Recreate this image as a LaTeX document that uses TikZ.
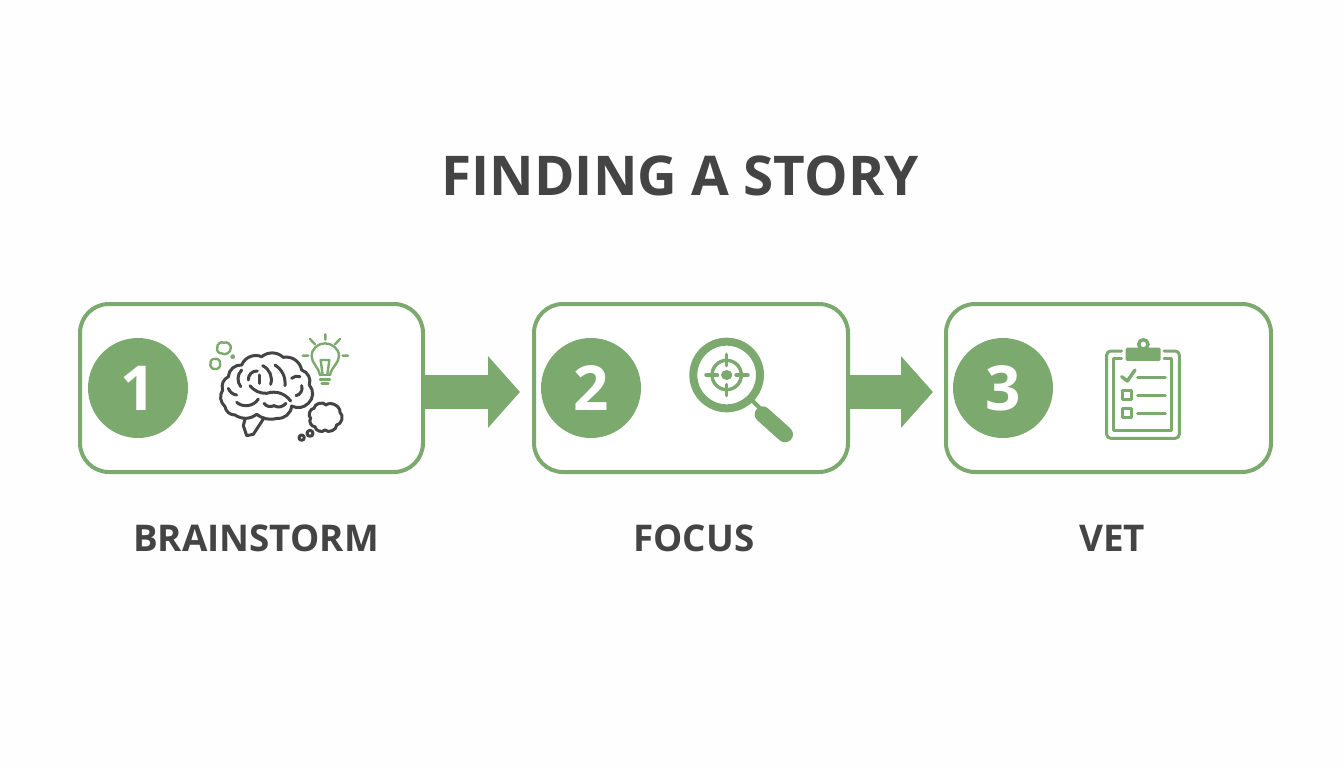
\documentclass[tikz,border=0pt]{standalone}
\usepackage{fontspec}
\setmainfont{Open Sans}
\usetikzlibrary{arrows.meta}
\definecolor{leaf}{HTML}{7CAA6E}
\definecolor{ink}{HTML}{444444}
\definecolor{paper}{HTML}{FEFEFE}
\tikzset{
  stepbox/.style={draw=leaf,line width=4pt,rounded corners=29pt,fill=white,inner sep=0pt,anchor=north west,outer sep=0pt},
  badge/.style={circle,fill=leaf,text=white,minimum size=100pt,inner sep=0pt,font=\fontsize{62}{62}\selectfont\bfseries},
  steplabel/.style={text=ink,font=\fontsize{36.8}{36.8}\selectfont\bfseries,inner sep=0pt},
  flow/.style={draw=leaf,line width=34pt,-{Triangle[length=32pt,width=70pt]}},
  brainline/.style={draw=ink,line width=3pt,line cap=round,line join=round},
  bulbline/.style={draw=leaf,line width=2.4pt,line cap=round,line join=round},
  iconline/.style={draw=leaf,line width=3pt,line cap=round,line join=round},
}
\begin{document}
\begin{tikzpicture}[x=1pt,y=-1pt]
\fill[paper] (0,0) rectangle (1344,768);
\useasboundingbox (0,0) rectangle (1344,768);
\node[text=ink,inner sep=0pt,font=\fontsize{54.8}{54.8}\selectfont\bfseries] (title) at (680,175.5) {FINDING A STORY};
\node[stepbox,minimum width=343pt,minimum height=168pt] (box1) at (80,304) {};
\node[stepbox,minimum width=314pt,minimum height=168pt] (box2) at (534,304) {};
\node[stepbox,minimum width=325pt,minimum height=168pt] (box3) at (946,304) {};
\node[badge] (n1) at (138,388) {1};
\node[badge] (n2) at (591,388) {2};
\node[badge] (n3) at (1003,388) {3};
\node[steplabel] (l1) at (256,538.5) {BRAINSTORM};
\node[steplabel] (l2) at (694,538.5) {FOCUS};
\node[steplabel] (l3) at (1112,538.5) {VET};
\draw[flow,shorten >=14pt] ([yshift=-4pt]box1.east) -- ([yshift=-4pt]box2.west);
\draw[flow,shorten >=13pt] ([yshift=-4pt]box2.east) -- ([yshift=-4pt]box3.west);
% brain icon
\begin{scope}[shift={(200,325)},x=0.3333pt,y=-0.3333pt]
\draw[brainline,fill=white] (75,245) to[bend left=40] (68,195) to[bend left=40] (85,155) to[bend left=45] (125,120) to[bend left=45] (185,95) to[bend left=40] (250,97) to[bend left=45] (305,135) to[bend left=45] (328,180) to[bend left=45] (325,235) to[bend left=35] (275,243) to[bend left=45] (232,280) to[bend left=25] (170,268) to[bend left=35] (105,270) to[bend left=40] (75,245);
\draw[brainline] (190,282) -- (160,328) -- (140,332) -- (130,302) -- (135,283);
\draw[brainline] (122,185) to[bend left=40] (125,135);
\draw[brainline] (145,165) to[bend left=50] (172,138);
\draw[brainline] (150,182) to[bend right=25] (200,205) to[bend left=35] (272,228);
\draw[brainline] (188,122) to[bend left=40] (212,178);
\draw[brainline] (225,120) to[bend left=30] (255,182);
\draw[brainline] (275,160) to[bend left=30] (300,155);
\draw[brainline] (288,212) to[bend right=50] (305,182);
\draw[brainline] (85,190) to[bend right=30] (110,210);
\draw[brainline] (110,232) to[bend right=50] (175,222);
\draw[brainline] (192,235) to[bend right=40] (222,242) to[bend right=40] (258,235);
\draw[brainline] (180,150) -- (180,175);
% thought cloud
\draw[brainline] (345,305) to[bend left=70] (332,280) to[bend left=70] (342,250) to[bend left=70] (378,240) to[bend left=70] (420,262) to[bend left=70] (410,300) to[bend left=70] (375,315) to[bend left=70] (345,305);
\draw[brainline] (305,338) circle (8);
\draw[brainline] (330,325) circle (9);
% green clouds
\draw[bulbline] (65,85) to[bend left=70] (52,68) to[bend left=70] (72,53) to[bend left=70] (92,70) to[bend left=70] (65,85);
\draw[bulbline] (45,132) to[bend left=70] (32,115) to[bend left=70] (45,102) to[bend left=70] (60,115) to[bend left=70] (45,132);
\draw[bulbline] (98,95) circle (4);
% bulb
\draw[bulbline] (360,150) .. controls (355,125) and (335,115) .. (335,93) .. controls (335,70) and (355,55) .. (375,55) .. controls (395,55) and (417,70) .. (417,93) .. controls (417,115) and (395,125) .. (390,150);
\draw[bulbline] (360,150) -- (390,150) (360,163) -- (390,163) (365,176) -- (385,176);
\draw[bulbline] (368,150) -- (362,105) -- (388,105) -- (382,150);
\draw[bulbline] (376,44) -- (376,28) (345,58) -- (330,42) (405,58) -- (420,42) (325,92) -- (308,92) (428,92) -- (444,92);
\end{scope}
% magnifier
\begin{scope}[shift={(680,325)},x=0.3333pt,y=-0.3333pt]
\draw[leaf,line width=8pt] (140,150) circle (100);
\draw[leaf,line width=3.4pt] (140,150) circle (44);
\fill[leaf] (140,150) ellipse (17 and 15);
\draw[leaf,line width=3.4pt,line cap=round] (140,88) -- (140,122) (140,178) -- (140,212) (78,150) -- (112,150) (168,150) -- (204,150);
\draw[leaf,line width=4pt] (215,225) -- (245,255);
\draw[leaf,line width=16pt,line cap=round] (248,268) -- (315,328);
\end{scope}
% clipboard
\begin{scope}[shift={(1090,325)},x=0.3333pt,y=-0.3333pt]
\draw[iconline,rounded corners=4pt] (95,78) -- (50,78) -- (50,340) -- (268,340) -- (268,78) -- (222,78);
\draw[iconline] (95,100) -- (70,100) -- (70,318) -- (245,318) -- (245,100) -- (222,100);
\fill[leaf,rounded corners=1.5pt] (107,68) rectangle (212,108);
\draw[leaf,line width=3.4pt,fill=white] (160,58) circle (14);
\draw[iconline,line width=3.4pt] (95,155) -- (112,168) -- (135,135);
\draw[iconline] (143,158) -- (226,158) (143,211) -- (226,211) (143,265) -- (226,265);
\draw[iconline] (97,198) rectangle (124,225) (97,250) rectangle (124,279);
\end{scope}
\end{tikzpicture}
\end{document}
